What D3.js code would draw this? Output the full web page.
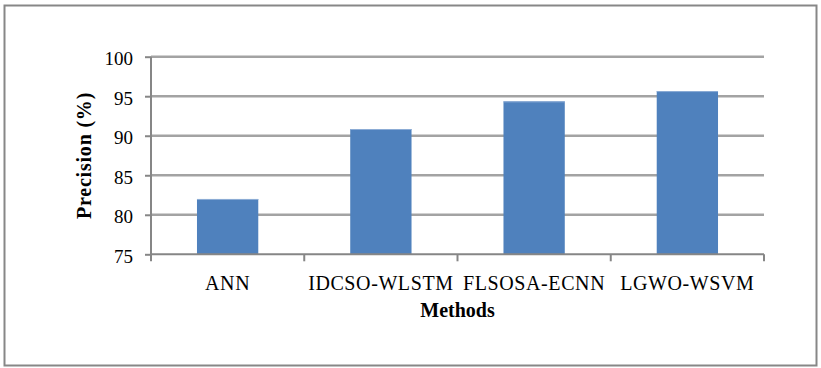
<!DOCTYPE html>
<html>
<head>
<meta charset="utf-8">
<script src="https://cdn.jsdelivr.net/npm/d3@7"></script>
<style>
  html, body { margin: 0; padding: 0; background: #fff; }
  svg { display: block; }
</style>
</head>
<body>
<svg id="chart" width="821" height="368"></svg>
<script>
const categories = ["ANN", "IDCSO-WLSTM", "FLSOSA-ECNN", "LGWO-WSVM"];
const precision = [82.0, 90.85, 94.35, 95.65];
const yTicks = [75, 80, 85, 90, 95, 100];
const xTitle = "Methods";
const yTitle = "Precision (%)";

(function () {
const svg = d3.select("#chart");
const pL = 151, pR = 764, pT = 56.7, pB = 254.3;
const serif = "'Liberation Serif', 'Times New Roman', serif";

// Outer frame
svg.append("rect")
  .attr("x", 4.5).attr("y", 5.5).attr("width", 812).attr("height", 360)
  .attr("fill", "#fff").attr("stroke", "#878787").attr("stroke-width", 2);

const x = d3.scaleBand().domain(categories).range([pL, pR])
  .paddingInner(0.6).paddingOuter(0.3);
const y = d3.scaleLinear().domain([75, 100]).range([pB, pT]);

// Gridlines
svg.append("g").selectAll("line").data(yTicks.filter(t => t > 75)).join("line")
  .attr("x1", pL).attr("x2", pR)
  .attr("y1", d => y(d)).attr("y2", d => y(d))
  .attr("stroke", "#a3a3a3").attr("stroke-width", 2.5);

// Bars
svg.append("g").selectAll("rect").data(categories).join("rect")
  .attr("x", d => x(d))
  .attr("y", (d, i) => y(precision[i]))
  .attr("width", x.bandwidth())
  .attr("height", (d, i) => y(75) - y(precision[i]))
  .attr("fill", "#4f81bd");
svg.append("g").selectAll("line").data(categories).join("line")
  .attr("x1", d => x(d)).attr("x2", d => x(d) + x.bandwidth())
  .attr("y1", (d, i) => y(precision[i]) + 0.5).attr("y2", (d, i) => y(precision[i]) + 0.5)
  .attr("stroke", "#8eadd6").attr("stroke-width", 1);

// Y axis
const yAxis = svg.append("g").attr("transform", `translate(${pL},0)`)
  .call(d3.axisLeft(y).tickValues(yTicks).tickSize(6).tickPadding(12).tickFormat(d3.format("d")));
yAxis.select(".domain").attr("stroke", "#868686").attr("stroke-width", 2)
  .attr("d", `M0,${pT}V${pB}`);
yAxis.selectAll(".tick line").attr("stroke", "#868686").attr("stroke-width", 2);
yAxis.selectAll(".tick text")
  .attr("font-family", serif).attr("font-size", 19).attr("fill", "#000")
  .attr("dy", "0.42em");

// X axis
const xAxis = svg.append("g").attr("transform", `translate(0,${pB})`)
  .call(d3.axisBottom(x).tickSize(0).tickPadding(22));
xAxis.select(".domain").attr("stroke", "#868686").attr("stroke-width", 2)
  .attr("d", `M${pL},0H${pR}`);
xAxis.selectAll(".tick text")
  .attr("font-family", serif).attr("font-size", 20).attr("fill", "#000")
  .attr("letter-spacing", 0.6)
  .attr("dy", "0.71em").attr("y", 22);
// category boundary ticks
const step = x.step();
const bounds = d3.range(categories.length + 1).map(i => i === 0 ? pL : (i === categories.length ? pR : x(categories[i]) - step * x.paddingInner() / 2));
xAxis.append("g").selectAll("line").data(bounds).join("line")
  .attr("x1", d => d).attr("x2", d => d).attr("y1", 0).attr("y2", 7)
  .attr("stroke", "#868686").attr("stroke-width", 2);

// Axis titles
svg.append("text")
  .attr("x", (pL + pR) / 2).attr("y", 317)
  .attr("text-anchor", "middle")
  .attr("font-family", serif).attr("font-size", 20).attr("font-weight", "bold")
  .text(xTitle);
svg.append("text")
  .attr("transform", `translate(90.5,${(pT + pB) / 2}) rotate(-90)`)
  .attr("text-anchor", "middle")
  .attr("font-family", serif).attr("font-size", 20).attr("font-weight", "bold")
  .attr("letter-spacing", 0.8)
  .text(yTitle);
})();
</script>
</body>
</html>
